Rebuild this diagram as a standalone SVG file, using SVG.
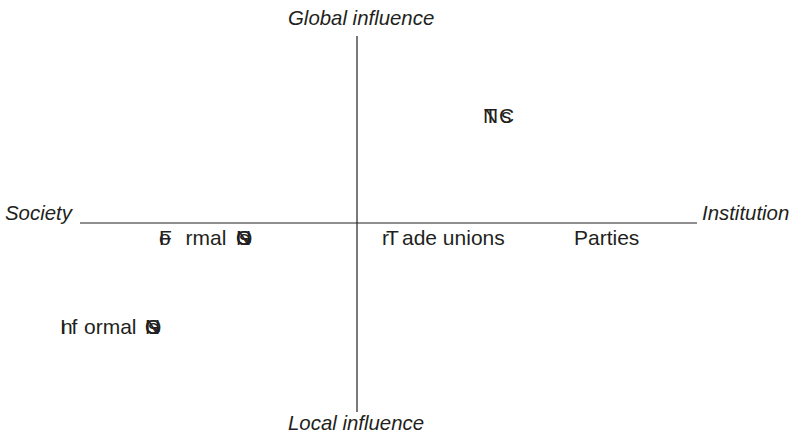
<svg xmlns="http://www.w3.org/2000/svg" width="797" height="439" viewBox="0 0 797 439">
<style>
text{font-family:"Liberation Sans",Arial,sans-serif;font-size:21px;fill:#231f20}
text.axis{font-style:italic;font-size:20.4px}
.ln{stroke:#231f20;stroke-width:1.2;fill:none}
</style>
<rect width="797" height="439" fill="#fff"/>
<g id="connectors">
<line class="ln" x1="80" y1="223" x2="697" y2="223"/>
<line class="ln" x1="357" y1="36" x2="357" y2="412"/>
</g>
<g id="axis-global"><text class="axis" x="288" y="25">Global influence</text></g>
<g id="axis-local"><text class="axis" x="288" y="430">Local influence</text></g>
<g id="axis-society"><text class="axis" x="5" y="220">Society</text></g>
<g id="axis-institution"><text class="axis" x="702" y="220">Institution</text></g>
<g id="node-tncs"><text y="123"><tspan x="484">T</tspan><tspan x="483">N</tspan><tspan x="499">C</tspan><tspan x="501">s</tspan></text></g>
<g id="node-formal-ngos"><text y="245"><tspan x="159">F</tspan><tspan x="159">o</tspan><tspan x="185.5">rmal</tspan><tspan x="236">N</tspan><tspan x="236">G</tspan><tspan x="236">O</tspan><tspan x="239">s</tspan></text></g>
<g id="node-trade-unions"><text y="245"><tspan x="386">T</tspan><tspan x="382">r</tspan><tspan x="402">ade unions</tspan></text></g>
<g id="node-parties"><text x="574" y="245">Parties</text></g>
<g id="node-informal-ngos"><text y="334"><tspan x="60">I</tspan><tspan x="61">n</tspan><tspan x="71.5">f</tspan><tspan x="84">ormal</tspan><tspan x="145">N</tspan><tspan x="145">G</tspan><tspan x="145">O</tspan><tspan x="148">s</tspan></text></g>
</svg>
